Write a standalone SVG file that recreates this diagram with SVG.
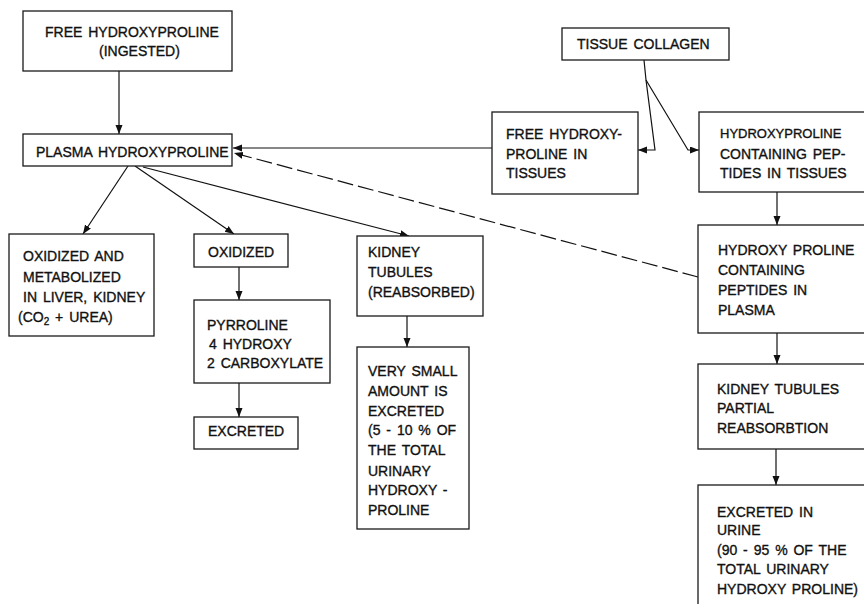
<svg xmlns="http://www.w3.org/2000/svg" width="864" height="604" viewBox="0 0 864 604">
<defs>
<style>
.box{fill:#fff;stroke:#1a1a1a;stroke-width:1.3}
.t{font-family:"Liberation Sans",Arial,sans-serif;font-size:14px;fill:#111;stroke:#111;stroke-width:0.35;word-spacing:2px}
.c{fill:none;stroke:#111;stroke-width:1.2}
.d{stroke-dasharray:16 5}
</style>
<marker id="ah" markerUnits="userSpaceOnUse" markerWidth="10" markerHeight="8" refX="9" refY="3.5" orient="auto">
<path d="M0,0 L9,3.5 L0,7 z" fill="#111"/>
</marker>
</defs>
<rect width="864" height="604" fill="#fff"/>
<g id="connectors">
<line class="c" x1="119" y1="71" x2="119" y2="134" marker-end="url(#ah)"/>
<line class="c" x1="492" y1="148" x2="233" y2="148" marker-end="url(#ah)"/>
<line class="c d" x1="698" y1="277" x2="234" y2="153" marker-end="url(#ah)"/>
<line class="c" x1="128" y1="166" x2="83" y2="234" marker-end="url(#ah)"/>
<line class="c" x1="135" y1="166" x2="234" y2="234" marker-end="url(#ah)"/>
<line class="c" x1="143" y1="167" x2="409" y2="236" marker-end="url(#ah)"/>
<line class="c" x1="239" y1="267" x2="239" y2="300" marker-end="url(#ah)"/>
<line class="c" x1="239" y1="383" x2="239" y2="417" marker-end="url(#ah)"/>
<line class="c" x1="407" y1="316" x2="407" y2="347" marker-end="url(#ah)"/>
<path class="c" d="M644,60 L646,80 L655,150 L638,150" marker-end="url(#ah)"/>
<path class="c" d="M646,80 L688,150 L699,150" marker-end="url(#ah)"/>
<line class="c" x1="777" y1="192" x2="777" y2="225" marker-end="url(#ah)"/>
<line class="c" x1="777" y1="333" x2="777" y2="364" marker-end="url(#ah)"/>
<line class="c" x1="776" y1="449" x2="776" y2="485" marker-end="url(#ah)"/>
</g>
<g id="n1"><rect class="box" x="23" y="11" width="209" height="60"/>
<text class="t" x="45" y="37">FREE HYDROXYPROLINE</text>
<text class="t" x="99" y="56">(INGESTED)</text></g>
<g id="n2"><rect class="box" x="23" y="134" width="209" height="32"/>
<text class="t" x="36" y="157">PLASMA HYDROXYPROLINE</text></g>
<g id="n3"><rect class="box" x="562" y="28" width="167" height="32"/>
<text class="t" x="577" y="49">TISSUE COLLAGEN</text></g>
<g id="n4"><rect class="box" x="492" y="112" width="146" height="82"/>
<text class="t" x="506" y="139">FREE HYDROXY-</text>
<text class="t" x="506" y="159">PROLINE IN</text>
<text class="t" x="506" y="178">TISSUES</text></g>
<g id="n5"><rect class="box" x="699" y="112" width="170" height="80"/>
<text class="t" x="720" y="138" style="font-size:13px">HYDROXYPROLINE</text>
<text class="t" x="720" y="159">CONTAINING PEP-</text>
<text class="t" x="720" y="178">TIDES IN TISSUES</text></g>
<g id="n6"><rect class="box" x="9" y="234" width="145" height="102"/>
<text class="t" x="23" y="261">OXIDIZED AND</text>
<text class="t" x="23" y="282">METABOLIZED</text>
<text class="t" x="23" y="302">IN LIVER, KIDNEY</text>
<text class="t" x="18" y="322">(CO<tspan dy="3" style="font-size:10px">2</tspan><tspan dy="-3"> + UREA)</tspan></text></g>
<g id="n7"><rect class="box" x="194" y="234" width="94" height="33"/>
<text class="t" x="208" y="257">OXIDIZED</text></g>
<g id="n8"><rect class="box" x="194" y="300" width="136" height="83"/>
<text class="t" x="207" y="330">PYRROLINE</text>
<text class="t" x="209" y="349">4 HYDROXY</text>
<text class="t" x="207" y="368">2 CARBOXYLATE</text></g>
<g id="n9"><rect class="box" x="194" y="417" width="104" height="32"/>
<text class="t" x="208" y="436">EXCRETED</text></g>
<g id="n10"><rect class="box" x="357" y="236" width="126" height="80"/>
<text class="t" x="368" y="257">KIDNEY</text>
<text class="t" x="368" y="277">TUBULES</text>
<text class="t" x="368" y="297">(REABSORBED)</text></g>
<g id="n11"><rect class="box" x="357" y="347" width="112" height="182"/>
<text class="t" x="368" y="376">VERY SMALL</text>
<text class="t" x="368" y="396">AMOUNT IS</text>
<text class="t" x="368" y="416">EXCRETED</text>
<text class="t" x="368" y="435">(5 - 10 % OF</text>
<text class="t" x="368" y="455">THE TOTAL</text>
<text class="t" x="368" y="476">URINARY</text>
<text class="t" x="368" y="495">HYDROXY -</text>
<text class="t" x="368" y="515">PROLINE</text></g>
<g id="n12"><rect class="box" x="698" y="225" width="170" height="108"/>
<text class="t" x="718" y="255">HYDROXY PROLINE</text>
<text class="t" x="718" y="275">CONTAINING</text>
<text class="t" x="718" y="295">PEPTIDES IN</text>
<text class="t" x="718" y="315">PLASMA</text></g>
<g id="n13"><rect class="box" x="698" y="364" width="170" height="85"/>
<text class="t" x="717" y="394">KIDNEY TUBULES</text>
<text class="t" x="717" y="413">PARTIAL</text>
<text class="t" x="717" y="433">REABSORBTION</text></g>
<g id="n14"><rect class="box" x="698" y="485" width="170" height="130"/>
<text class="t" x="717" y="517">EXCRETED IN</text>
<text class="t" x="717" y="535">URINE</text>
<text class="t" x="717" y="555">(90 - 95 % OF THE</text>
<text class="t" x="717" y="574">TOTAL URINARY</text>
<text class="t" x="717" y="594">HYDROXY PROLINE)</text></g>
</svg>
